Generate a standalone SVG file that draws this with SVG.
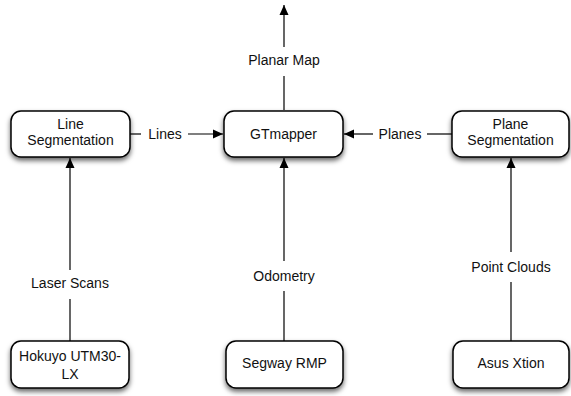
<svg xmlns="http://www.w3.org/2000/svg" width="571" height="396" viewBox="0 0 571 396">
<defs>
<filter id="sh" x="-20%" y="-20%" width="140%" height="160%">
<feDropShadow dx="0" dy="3" stdDeviation="2.5" flood-color="#000" flood-opacity="0.6"/>
</filter>
<marker id="ah" viewBox="0 0 10 10" refX="10" refY="5" markerWidth="10" markerHeight="10" markerUnits="userSpaceOnUse" orient="auto">
<path d="M0,0.5 L10,5 L0,9.5 Z" fill="#000"/>
</marker>
<style>
.box{fill:#fff;stroke:#000;stroke-width:1.5;filter:url(#sh)}
.t{font-family:"Liberation Sans",Arial,sans-serif;font-size:14px;fill:#111;text-anchor:middle}
.c{stroke:#000;stroke-width:1.2;fill:none}
.ca{stroke:#000;stroke-width:1.2;fill:none;marker-end:url(#ah)}
</style>
</defs>
<g id="connectors">
<line class="c" x1="70" y1="341" x2="70" y2="299"/>
<line class="ca" x1="70" y1="270" x2="70" y2="158"/>
<text class="t" x="70" y="288">Laser Scans</text>
<line class="c" x1="284" y1="341" x2="284" y2="291"/>
<line class="ca" x1="284" y1="261" x2="284" y2="158"/>
<text class="t" x="284" y="281">Odometry</text>
<line class="c" x1="511" y1="341" x2="511" y2="282"/>
<line class="ca" x1="511" y1="252" x2="511" y2="158"/>
<text class="t" x="511" y="272">Point Clouds</text>
<line class="c" x1="130" y1="134" x2="141" y2="134"/>
<line class="ca" x1="188" y1="134" x2="223" y2="134"/>
<text class="t" x="165" y="139">Lines</text>
<line class="c" x1="452" y1="134" x2="427" y2="134"/>
<line class="ca" x1="373" y1="134" x2="344" y2="134"/>
<text class="t" x="400" y="139">Planes</text>
<line class="c" x1="284" y1="110" x2="284" y2="76"/>
<line class="ca" x1="284" y1="47" x2="284" y2="5"/>
<text class="t" x="284" y="65">Planar Map</text>
</g>
<g id="line-seg">
<rect class="box" x="11" y="111" width="119" height="46" rx="10"/>
<text class="t" x="70.5" y="129">Line</text>
<text class="t" x="70.5" y="145">Segmentation</text>
</g>
<g id="gtmapper">
<rect class="box" x="224" y="111" width="119" height="46" rx="10"/>
<text class="t" x="283.5" y="139">GTmapper</text>
</g>
<g id="plane-seg">
<rect class="box" x="452" y="111" width="117" height="46" rx="10"/>
<text class="t" x="510.5" y="129">Plane</text>
<text class="t" x="510.5" y="145">Segmentation</text>
</g>
<g id="hokuyo">
<rect class="box" x="11" y="341" width="118" height="47" rx="10"/>
<text class="t" x="70" y="361">Hokuyo UTM30-</text>
<text class="t" x="70" y="379">LX</text>
</g>
<g id="segway">
<rect class="box" x="226" y="341" width="117" height="47" rx="10"/>
<text class="t" x="284.5" y="368">Segway RMP</text>
</g>
<g id="asus">
<rect class="box" x="453" y="341" width="116" height="47" rx="10"/>
<text class="t" x="511" y="368">Asus Xtion</text>
</g>
</svg>
